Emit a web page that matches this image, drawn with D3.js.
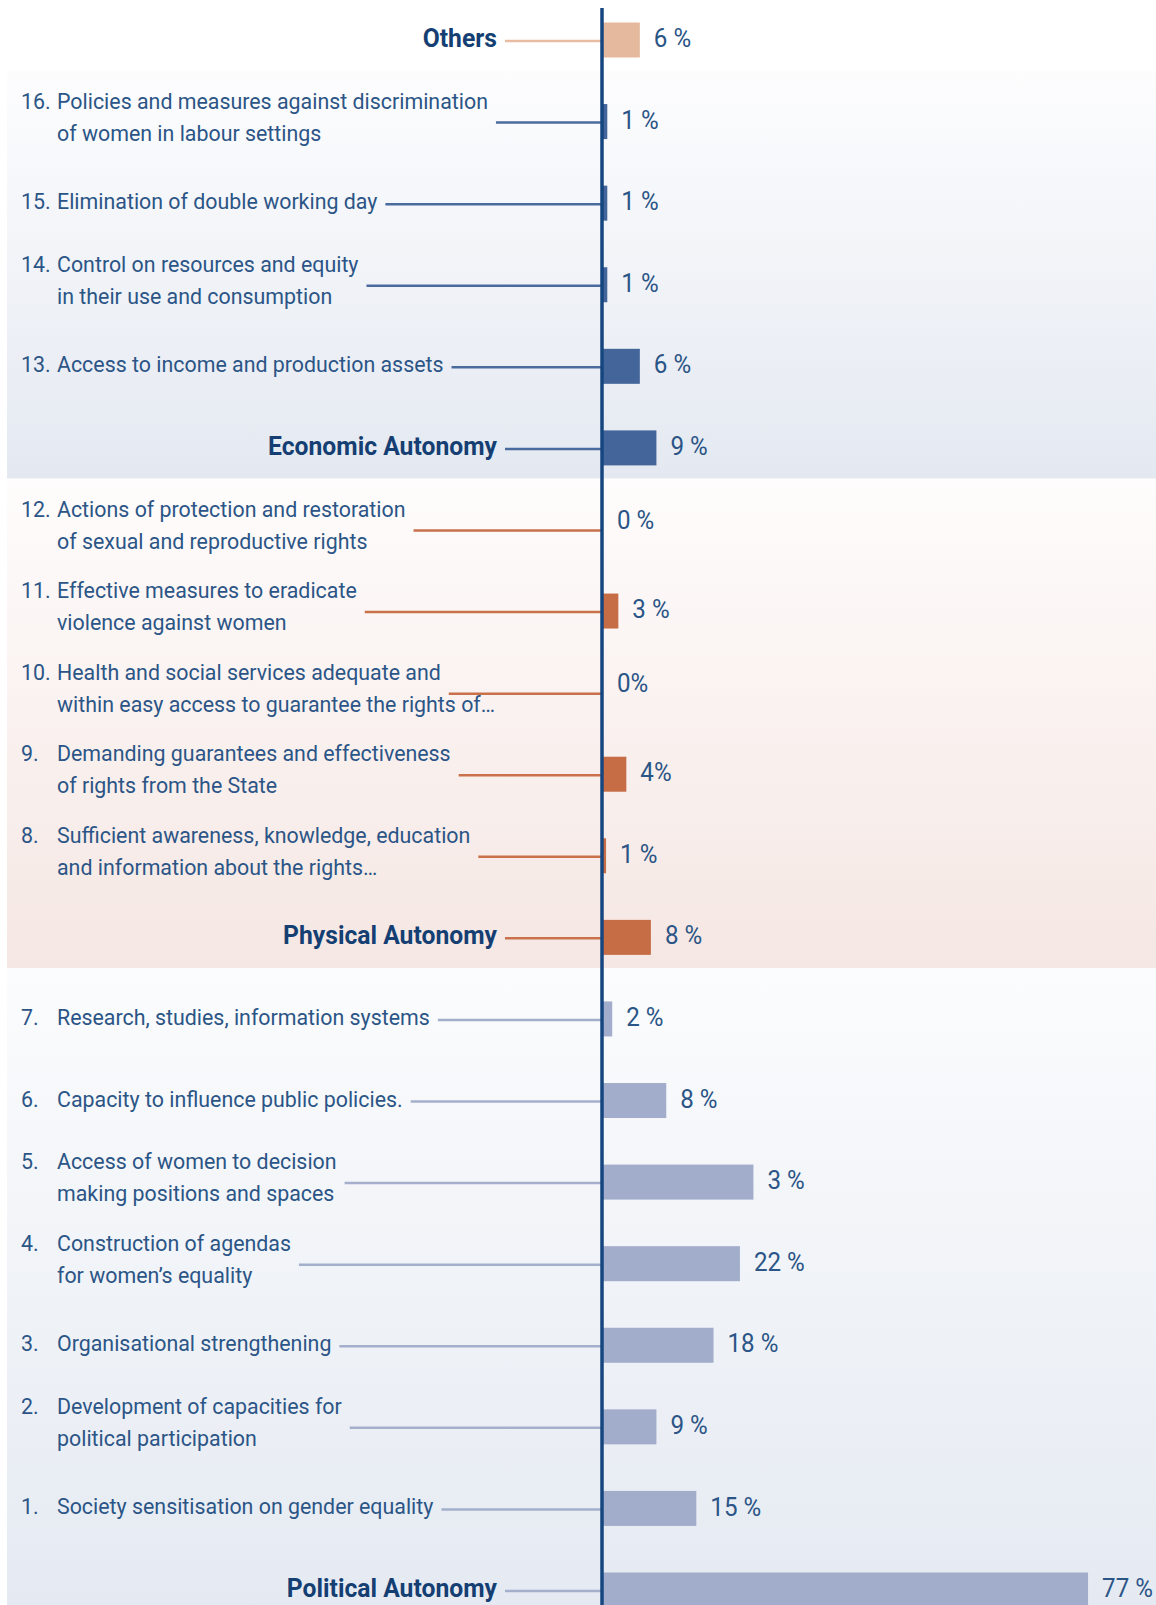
<!DOCTYPE html>
<html>
<head>
<meta charset="utf-8">
<script src="https://cdn.jsdelivr.net/npm/d3@7"></script>
<style>
  body { margin: 0; background: #ffffff; }
  svg { display: block; }
  text { font-family: "Liberation Sans Narrow", "Roboto", "Open Sans", sans-serif; }
</style>
</head>
<body>
<div id="chart"></div>
<script>
// Rows from top to bottom
const rowKeys = ["others", "16", "15", "14", "13", "economic", "12", "11", "10", "9", "8", "physical",
                 "7", "6", "5", "4", "3", "2", "1", "political"];

const rowGroups = ["others", "economic", "economic", "economic", "economic", "economic",
                   "physical", "physical", "physical", "physical", "physical", "physical",
                   "political", "political", "political", "political", "political", "political", "political", "political"];

const itemNumbers = ["", "16.", "15.", "14.", "13.", "", "12.", "11.", "10.", "9.", "8.", "",
                     "7.", "6.", "5.", "4.", "3.", "2.", "1.", ""];

const itemLines = [
    ["Others"],
    ["Policies and measures against discrimination", "of women in labour settings"],
    ["Elimination of double working day"],
    ["Control on resources and equity", "in their use and consumption"],
    ["Access to income and production assets"],
    ["Economic Autonomy"],
    ["Actions of protection and restoration", "of sexual and reproductive rights"],
    ["Effective measures to eradicate", "violence against women"],
    ["Health and social services adequate and", "within easy access to guarantee the rights of\u2026"],
    ["Demanding guarantees and effectiveness", "of rights from the State"],
    ["Sufficient awareness, knowledge, education", "and information about the rights\u2026"],
    ["Physical Autonomy"],
    ["Research, studies, information systems"],
    ["Capacity to influence public policies."],
    ["Access of women to decision", "making positions and spaces"],
    ["Construction of agendas", "for women\u2019s equality"],
    ["Organisational strengthening"],
    ["Development of capacities for", "political participation"],
    ["Society sensitisation on gender equality"],
    ["Political Autonomy"]
];

// bar lengths (in %)
const barValues = [6, 0.7, 0.7, 0.7, 6, 8.7, 0, 2.5, 0, 3.8, 0.5, 7.8,
                   1.5, 10.3, 24.5, 22.3, 18, 8.7, 15.2, 79];

// value labels as printed
const valueLabels = ["6 %", "1 %", "1 %", "1 %", "6 %", "9 %", "0 %", "3 %", "0%", "4%", "1 %", "8 %",
                     "2 %", "8 %", "3 %", "22 %", "18 %", "9 %", "15 %", "77 %"];

const groupNames = ["economic", "physical", "political"];

const barColors = { others: "#e5b99e", economic: "#44659a", physical: "#c66d45", political: "#a1adca" };
const lineColors = { others: "#e8bba3", economic: "#4a6b9e", physical: "#c9714b", political: "#a3afcb" };
const panelTop = { economic: "#fdfdfe", physical: "#fefcfc", political: "#fbfcfd" };
const panelBottom = { economic: "#e4e9f1", physical: "#f5e7e3", political: "#e5eaf2" };

const rows = rowKeys.map((key, i) => ({
    key: key,
    group: rowGroups[i],
    number: itemNumbers[i],
    lines: itemLines[i],
    value: barValues[i],
    label: valueLabels[i],
    heading: itemNumbers[i] === ""
}));

const svgWidth = 1156;
const svgHeight = 1605;
const axisX = 602;
const barHeight = 35;
const textColor = "#2b5586";
const headColor = "#153f73";
const labelSqueeze = 0.93;  // the original uses a condensed face
const headSqueeze = 0.95;

const svg = d3.select("#chart").append("svg")
    .attr("width", svgWidth)
    .attr("height", svgHeight);

const yScale = d3.scalePoint()
    .domain(rowKeys)
    .range([40, 1590]);

const xScale = d3.scaleLinear()
    .domain([0, 100])
    .range([axisX + 1, axisX + 1 + 614]);

// Background panels with vertical gradients
const defs = svg.append("defs");
groupNames.forEach(g => {
    const grad = defs.append("linearGradient")
        .attr("id", `grad-${g}`)
        .attr("x1", "0%").attr("x2", "0%")
        .attr("y1", "0%").attr("y2", "100%");
    grad.append("stop").attr("offset", "0%").attr("stop-color", panelTop[g]);
    grad.append("stop").attr("offset", "100%").attr("stop-color", panelBottom[g]);
});

const step = yScale.step();
groupNames.forEach(g => {
    const keys = rows.filter(r => r.group === g).map(r => r.key);
    const top = yScale(keys[0]) - step / 2 - 10;
    const isLast = g === groupNames[groupNames.length - 1];
    const bottom = isLast ? svgHeight : yScale(keys[keys.length - 1]) + step / 2 - 10;
    svg.append("rect")
        .attr("x", 7)
        .attr("y", top)
        .attr("width", svgWidth - 7)
        .attr("height", bottom - top)
        .attr("fill", `url(#grad-${g})`);
});

// Row groups
const rowG = svg.selectAll(".row")
    .data(rows)
    .enter()
    .append("g")
    .attr("class", "row")
    .attr("transform", d => `translate(0,${yScale(d.key)})`);

// condensed text helper: squeeze horizontally around the anchor point
function squeezedText(g, x, y, sx, str) {
    return g.append("text")
        .attr("transform", `translate(${x},${y}) scale(${sx},1)`)
        .attr("dy", "0.35em")
        .text(str);
}

// Labels
rowG.each(function(d) {
    const g = d3.select(this);
    let textEnd = 0;
    if (d.heading) {
        squeezedText(g, 497, -2, headSqueeze, d.lines[0])
            .attr("text-anchor", "end")
            .attr("fill", headColor)
            .style("font-size", "26px")
            .style("font-weight", "bold");
        textEnd = 497;
    } else {
        const offsets = d.lines.length === 1 ? [-2] : [-21, 11];
        squeezedText(g, 21, offsets[0], labelSqueeze, d.number)
            .attr("fill", textColor)
            .style("font-size", "23px");
        d.lines.forEach((line, i) => {
            const t = squeezedText(g, 57, offsets[i], labelSqueeze, line)
                .attr("fill", textColor)
                .style("font-size", "23px");
            if (i === 0) textEnd = 57 + t.node().getComputedTextLength() * labelSqueeze;
        });
    }
    // connector line
    g.append("line")
        .attr("x1", textEnd + 8)
        .attr("x2", axisX)
        .attr("y1", 1)
        .attr("y2", 1)
        .attr("stroke", lineColors[d.group])
        .attr("stroke-width", 2.5);
});

// Bars
rowG.filter(d => d.value > 0)
    .append("rect")
    .attr("x", xScale(0))
    .attr("y", -barHeight / 2)
    .attr("width", d => xScale(d.value) - xScale(0))
    .attr("height", barHeight)
    .attr("fill", d => barColors[d.group]);

// Value labels
rowG.each(function(d) {
    squeezedText(d3.select(this), xScale(d.value) + 14, d.value > 0 ? -2 : -10, labelSqueeze, d.label)
        .attr("fill", textColor)
        .style("font-size", "26px");
});

// Vertical axis
svg.append("line")
    .attr("x1", axisX)
    .attr("x2", axisX)
    .attr("y1", 8)
    .attr("y2", svgHeight)
    .attr("stroke", "#16467f")
    .attr("stroke-width", 3.5);
</script>
</body>
</html>
